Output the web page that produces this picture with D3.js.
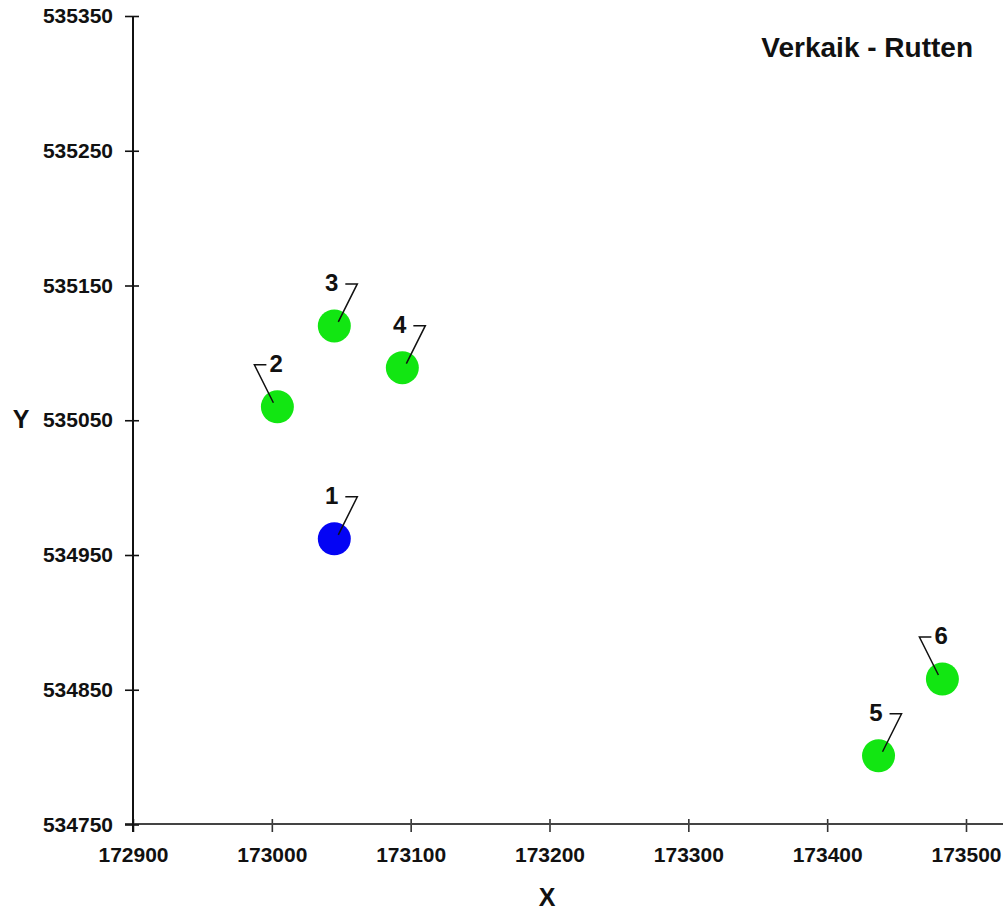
<!DOCTYPE html>
<html lang="en">
<head>
    <meta charset="UTF-8">
    <title>Verkaik - Rutten</title>
    <script src="https://d3js.org/d3.v7.min.js"></script>
    <style>
        body {
            margin: 0;
            background: #fff;
            font-family: Arial, "Liberation Sans", sans-serif;
        }
        svg text {
            font-weight: bold;
            fill: #111;
        }
    </style>
</head>
<body>
    <svg width="1008" height="913"></svg>

    <script>
        // point data
        const ids = ["1", "2", "3", "4", "5", "6"];
        const xVals = [173045, 173004, 173045, 173094, 173437, 173483];
        const yVals = [534962, 535060, 535120, 535089, 534801, 534858];
        const kinds = ["blue", "green", "green", "green", "green", "green"];
        const labelSide = [1, -1, 1, 1, 1, -1];   // label right (1) or left (-1) of the leader

        const xTicks = [172900, 173000, 173100, 173200, 173300, 173400, 173500];
        const yTicks = [534750, 534850, 534950, 535050, 535150, 535250, 535350];

        const colors = { blue: "#0404f4", green: "#12e612" };

        const svg = d3.select("svg");

        const x = d3.scaleLinear().domain([172900, 173500]).range([133, 966]);
        const y = d3.scaleLinear().domain([534750, 535350]).range([824.5, 16]);

        // x axis
        const gx = svg.append("g")
            .attr("transform", "translate(0,824)")
            .call(d3.axisBottom(x).tickValues(xTicks).tickFormat(d3.format("d")).tickSize(8));
        gx.select(".domain").remove();
        gx.selectAll(".tick line").attr("y1", -5).attr("y2", 8).attr("stroke", "#333").attr("stroke-width", 1.6);
        gx.selectAll(".tick text")
            .attr("y", 23)
            .attr("font-size", 21)
            .attr("font-family", "Arial, 'Liberation Sans', sans-serif");
        gx.append("line")
            .attr("x1", 125).attr("x2", 1003)
            .attr("stroke", "#444").attr("stroke-width", 2);

        // y axis
        const gy = svg.append("g")
            .attr("transform", "translate(133,0)")
            .call(d3.axisLeft(y).tickValues(yTicks).tickFormat(d3.format("d")).tickSize(8));
        gy.select(".domain").remove();
        gy.selectAll(".tick line").attr("x1", 6).attr("x2", -8).attr("stroke", "#111").attr("stroke-width", 1.6);
        gy.selectAll(".tick text")
            .attr("x", -20)
            .attr("font-size", 21)
            .attr("font-family", "Arial, 'Liberation Sans', sans-serif");
        gy.append("line")
            .attr("y1", 16).attr("y2", 832)
            .attr("stroke", "#111").attr("stroke-width", 2);

        // axis titles
        svg.append("text")
            .attr("x", 547).attr("y", 906)
            .attr("text-anchor", "middle")
            .attr("font-size", 25)
            .text("X");
        svg.append("text")
            .attr("x", 21).attr("y", 428)
            .attr("text-anchor", "middle")
            .attr("font-size", 25)
            .text("Y");

        // chart title
        svg.append("text")
            .attr("x", 973).attr("y", 57)
            .attr("text-anchor", "end")
            .attr("font-size", 28)
            .text("Verkaik - Rutten");

        const pts = ids.map((id, i) => ({
            id: id, x: xVals[i], y: yVals[i], kind: kinds[i], side: labelSide[i]
        }));

        // markers
        svg.append("g").selectAll("circle")
            .data(pts)
            .enter()
            .append("circle")
            .attr("cx", d => x(d.x))
            .attr("cy", d => y(d.y))
            .attr("r", 16.5)
            .attr("fill", d => colors[d.kind]);

        // leader lines
        svg.append("g").selectAll("polyline")
            .data(pts)
            .enter()
            .append("polyline")
            .attr("points", d => {
                const cx = x(d.x), cy = y(d.y), s = d.side;
                return [
                    [cx + s * 4, cy - 4],
                    [cx + s * 23, cy - 42],
                    [cx + s * 11, cy - 42]
                ].map(p => p.join(",")).join(" ");
            })
            .attr("fill", "none")
            .attr("stroke", "#111")
            .attr("stroke-width", 1.5);

        // point labels
        svg.append("g").selectAll("text")
            .data(pts)
            .enter()
            .append("text")
            .attr("x", d => x(d.x) + (d.side > 0 ? 4 : -8))
            .attr("y", d => y(d.y) - 43)
            .attr("dy", "0.35em")
            .attr("text-anchor", d => d.side > 0 ? "end" : "start")
            .attr("font-size", 24)
            .text(d => d.id);
    </script>
</body>
</html>
